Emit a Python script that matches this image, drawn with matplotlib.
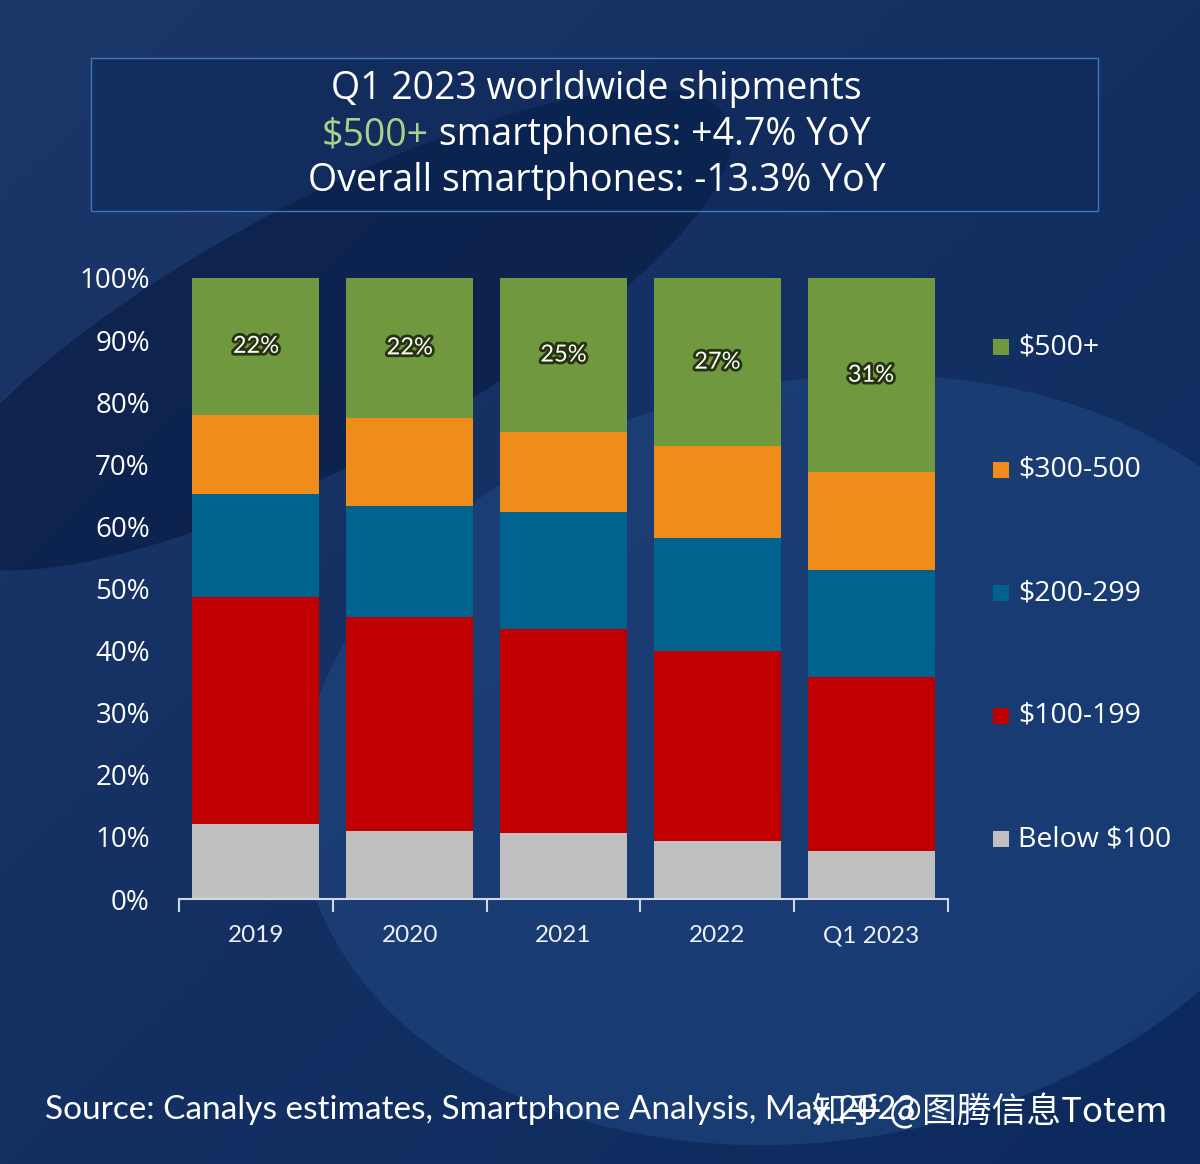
import numpy as np
import matplotlib.pyplot as plt
import matplotlib.patheffects as pe
from matplotlib.patches import Rectangle, Ellipse

# Daten (Anteile in %)
years = ['2019', '2020', '2021', '2022', 'Q1 2023']
below_100 = [12.0, 10.9, 10.7, 9.3, 7.8]
p100_199 = [36.7, 34.5, 32.8, 30.6, 27.9]
p200_299 = [16.5, 17.9, 18.8, 18.2, 17.2]
p300_500 = [12.8, 14.2, 12.9, 14.8, 15.8]
p500_plus = [22.0, 22.5, 24.8, 27.1, 31.3]
top_labels = ['22%', '22%', '25%', '27%', '31%']

series_names = ['Below $100', '$100-199', '$200-299', '$300-500', '$500+']
series = [below_100, p100_199, p200_299, p300_500, p500_plus]
colors = ['#c0c0c0', '#c00000', '#00628f', '#f08c1a', '#70983e']

fig = plt.figure(figsize=(12, 11.64), dpi=100)

# Hintergrund
bg = fig.add_axes([0, 0, 1, 1])
bg.set_xlim(0, 1200)
bg.set_ylim(1164, 0)
bg.axis('off')
grad = np.linspace(0, 1, 256).reshape(1, -1)
yy = np.linspace(0, 1, 200).reshape(-1, 1)
c1 = np.array([0x1c, 0x36, 0x68]) / 255
c2 = np.array([0x0c, 0x2a, 0x5e]) / 255
t = np.clip(0.5 * grad + 0.5 * yy, 0, 1)[..., None]
g = c1 * (1 - t) + c2 * t
bg.imshow(g, extent=[0, 1200, 1164, 0], aspect='auto', zorder=0)
bg.add_patch(Ellipse((820, 760), 1050, 760, angle=-10, color='#1f4680', alpha=0.6, lw=0, zorder=1))
bg.add_patch(Ellipse((330, 330), 900, 260, angle=-28, color='#06183d', alpha=0.55, lw=0, zorder=1))

# Titelbox
fig.patches.append(Rectangle((91 / 1200, 1 - 211 / 1164), 1007 / 1200, 153 / 1164,
                             transform=fig.transFigure, facecolor='#0a2352', alpha=0.4,
                             edgecolor='none', zorder=1))
fig.patches.append(Rectangle((91 / 1200, 1 - 211 / 1164), 1007 / 1200, 153 / 1164,
                             transform=fig.transFigure, facecolor='none',
                             edgecolor='#3a78c0', lw=1, zorder=2))

title_font = dict(family='Open Sans', size=27, color='white', va='center')
fig.text(0.497, 1 - 89 / 1164, 'Q1 2023 worldwide shipments', ha='center', **title_font)
fig.text(0.497, 1 - 181 / 1164, 'Overall smartphones: -13.3% YoY', ha='center', **title_font)

r = fig.canvas.get_renderer()
ta = fig.text(0, 1 - 135 / 1164, '$500+', ha='left', **title_font)
tb = fig.text(0, 1 - 135 / 1164, ' smartphones: +4.7% YoY', ha='left', **title_font)
ta.set_color('#a9d18e')
wa = ta.get_window_extent(r).width / fig.bbox.width
wb = tb.get_window_extent(r).width / fig.bbox.width
x0 = 0.497 - (wa + wb) / 2
ta.set_x(x0)
tb.set_x(x0 + wa)

# Diagramm
ax = fig.add_axes([179 / 1200, 1 - 899 / 1164, 769 / 1200, 621 / 1164])
ax.set_facecolor('none')
x = np.arange(len(years))
bottom = np.zeros(len(years))
for vals, col in zip(series, colors):
    ax.bar(x, vals, bottom=bottom, width=0.825, color=col, edgecolor='none', zorder=2)
    bottom += np.array(vals)

# Beschriftung $500+
start = bottom - np.array(p500_plus)
for i, lab in enumerate(top_labels):
    ax.text(x[i], start[i] + p500_plus[i] / 2, lab, ha='center', va='center',
            color='white', fontsize=17, family='Lato',
            path_effects=[pe.withStroke(linewidth=4, foreground='#25330f')])

ax.set_xlim(-0.5, len(years) - 0.5)
ax.set_ylim(0, 100)
ax.set_yticks(np.arange(0, 101, 10))
ax.set_yticklabels([f'{v}%' for v in range(0, 101, 10)], family='Open Sans',
                   fontsize=20, color='white')
ax.tick_params(axis='y', length=0, pad=21)
ax.set_xticks(x)
ax.set_xticklabels(years, family='Lato', fontsize=17.5, color='#eef0f6')
ax.tick_params(axis='x', length=0, pad=19)
ax.set_xticks(np.arange(-0.5, len(years), 1), minor=True)
ax.tick_params(axis='x', which='minor', length=9, color='#d0d8e8', width=1.5)
for s in ['top', 'right', 'left']:
    ax.spines[s].set_visible(False)
ax.spines['bottom'].set_color('#d0d8e8')
ax.spines['bottom'].set_linewidth(1.5)

# Legende
leg_y = [839, 716, 593, 470, 347]
for name, col, ly in zip(series_names, colors, leg_y):
    fig.patches.append(Rectangle((993 / 1200, 1 - (ly + 8) / 1164), 16 / 1200, 16 / 1164,
                                 transform=fig.transFigure, facecolor=col, edgecolor='none'))
    fig.text(1018 / 1200, 1 - ly / 1164, name, ha='left', va='center',
             family='Open Sans', fontsize=20.5, color='white')

# Quelle
fig.text(45 / 1200, 1 - 1110 / 1164, 'Source: Canalys estimates, Smartphone Analysis, May 2023',
         ha='left', va='center', family='Lato', fontsize=24, color='white')
fig.text(1167 / 1200, 1 - 1112 / 1164, '知乎 @图腾信息Totem', ha='right', va='center',
         family=['Noto Sans CJK SC', 'DejaVu Sans'], fontsize=25, color='white')

fig.savefig('out.png', dpi=100)
